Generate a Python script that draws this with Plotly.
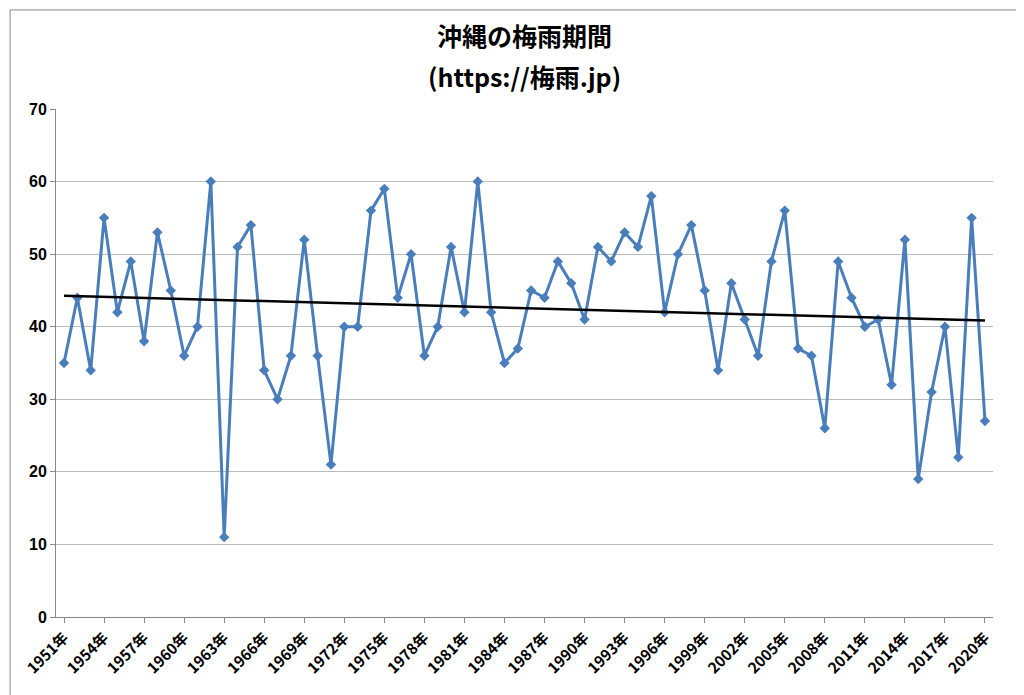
import numpy as np
import plotly.graph_objects as go

years = list(range(1951, 2021))
days = [35, 44, 34, 55, 42, 49, 38, 53, 45, 36, 40, 60, 11, 51, 54, 34, 30, 36, 52, 36,
        21, 40, 40, 56, 59, 44, 50, 36, 40, 51, 42, 60, 42, 35, 37, 45, 44, 49, 46, 41,
        51, 49, 53, 51, 58, 42, 50, 54, 45, 34, 46, 41, 36, 49, 56, 37, 36, 26, 49, 44,
        40, 41, 32, 52, 19, 31, 40, 22, 55, 27]
labels = [f"{y}年" for y in years]

# linear trend line
idx = np.arange(len(days))
slope, icpt = np.polyfit(idx, days, 1)
trend = slope * idx + icpt

fig = go.Figure()
fig.add_trace(go.Scatter(x=labels, y=days, mode="lines+markers",
                         line=dict(color="#4a7ebb", width=3),
                         marker=dict(symbol="diamond", size=8, color="#4a7ebb")))
fig.add_trace(go.Scatter(x=labels, y=trend, mode="lines",
                         line=dict(color="black", width=2.5)))

fig.update_layout(
    width=1024, height=695, showlegend=False,
    paper_bgcolor="white", plot_bgcolor="white",
    margin=dict(l=48, r=39, t=101, b=86),
    font=dict(family="Noto Sans CJK JP", color="black"),
    annotations=[
        dict(text="<b>沖縄の梅雨期間</b>", xref="paper", yref="paper", x=0.5, y=1.145,
             xanchor="center", yanchor="middle", showarrow=False, font=dict(size=25)),
        dict(text="<b>(https://梅雨.jp)</b>", xref="paper", yref="paper", x=0.5, y=1.065,
             xanchor="center", yanchor="middle", showarrow=False, font=dict(size=25)),
    ],
    shapes=[dict(type="rect", xref="paper", yref="paper", x0=-0.049, x1=1.037,
                 y0=-0.165, y1=1.195, line=dict(color="#888", width=1))],
)
fig.update_xaxes(type="category", tickvals=labels[::3], tickangle=-45,
                 range=[-0.6, 69.6],
                 tickfont=dict(size=15, family="Noto Sans CJK JP", weight="bold"),
                 showline=True, linecolor="#888", ticks="outside", tickcolor="#888",
                 showgrid=False)
fig.update_yaxes(range=[0, 70], dtick=10, gridcolor="#bbb", showline=True,
                 linecolor="#888", tickfont=dict(size=16, family="Liberation Sans", weight="bold"),
                 ticks="outside", tickcolor="#888", zeroline=False)
fig.write_html("out.html")
